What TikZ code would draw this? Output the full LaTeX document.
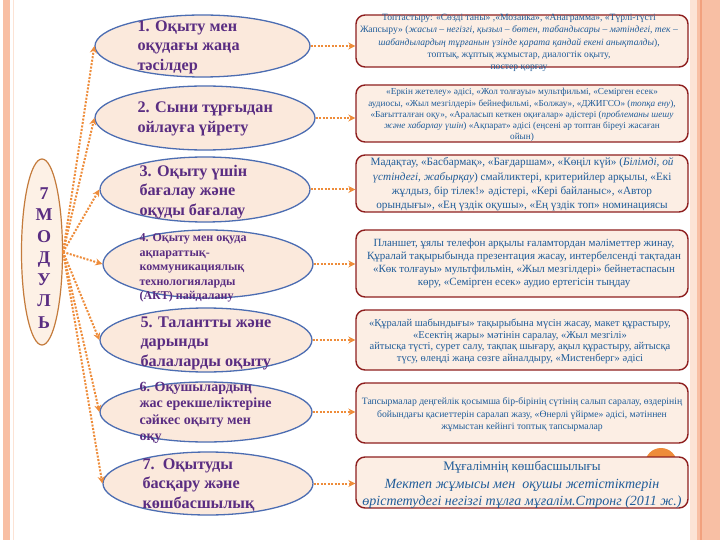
\documentclass[tikz,border=0pt]{standalone}
\usepackage{fontspec}
\setmainfont{Liberation Serif}
\usetikzlibrary{arrows.meta,positioning,shapes.geometric}

\definecolor{barpeach}{HTML}{F8BFA4}
\definecolor{barpale}{HTML}{FCE3D5}
\definecolor{bardark}{HTML}{F2A17E}
\definecolor{ellfill}{HTML}{FBE9DC}
\definecolor{ellline}{HTML}{4C6DB2}
\definecolor{modpurple}{HTML}{5A2D82}
\definecolor{modline}{HTML}{C47B3C}
\definecolor{modfill}{HTML}{FDF1E6}
\definecolor{boxline}{HTML}{8E1F1F}
\definecolor{boxfill}{HTML}{FCEEE4}
\definecolor{boxblue}{HTML}{1F5C99}
\definecolor{arrorange}{HTML}{EE8C3A}

\begin{document}
\begin{tikzpicture}[
  x=1pt,y=-1pt,
  ell/.style={ellipse, draw=ellline, fill=ellfill, line width=1.3pt, inner sep=0pt},
  modtext/.style={anchor=west, align=left, text=modpurple, font=\bfseries\fontsize{16.2}{19.5}\selectfont},
  card/.style={draw=boxline, fill=boxfill, rounded corners=9pt, line width=1.4pt, minimum width=332pt, inner sep=0pt},
  cardtext/.style={align=center, text=boxblue, inner sep=0pt},
  link/.style={-{Stealth[length=7pt,width=7pt]}, draw=arrorange, line width=2pt, dash pattern=on 2pt off 1.5pt}
]

% Slide background and side bars
\useasboundingbox[fill=white] (0,0) rectangle (720,540);
\fill[barpeach] (3,0) rectangle (10,540);
\draw[barpale, line width=1pt] (13,0) -- (13,540);
\fill[barpale] (690,0) rectangle (697,540);
\fill[barpeach] (697,0) rectangle (720,540);
\draw[bardark, line width=2pt] (701,0) -- (701,540);
\fill[arrorange] (661,464) circle (16);

% ================= Left: the 7 modules =================
\node[ellipse, draw=modline, fill=modfill, line width=1.2pt, minimum width=41pt, minimum height=186pt] (mod) at (42,252) {};
\node[align=center, text=modpurple, font=\bfseries\fontsize{18}{21.5}\selectfont] (modtxt) at (44,258)
  {7\\М\\О\\Д\\У\\Л\\Ь};

\node[ell, minimum width=215pt, minimum height=62pt] (m1) at (202.5,46) {};
\node[ell, minimum width=220pt, minimum height=64pt] (m2) at (205,118) {};
\node[ell, minimum width=210pt, minimum height=65pt] (m3) at (205,189.5) {};
\node[ell, minimum width=210pt, minimum height=68pt] (m4) at (208,264) {};
\node[ell, minimum width=212pt, minimum height=64pt] (m5) at (206,340) {};
\node[ell, minimum width=212pt, minimum height=60pt] (m6) at (206,412) {};
\node[ell, minimum width=210pt, minimum height=63pt] (m7) at (208,483.5) {};

\node[modtext] (m1t) at (134,47) {1. Оқыту мен\\оқудағы жаңа\\тәсілдер};
\node[modtext] (m2t) at (134,119) {2. Сыни тұрғыдан\\ойлауға үйрету};
\node[modtext] (m3t) at (136,192) {3. Оқыту үшін\\бағалау және\\оқуды бағалау};
\node[modtext, font=\bfseries\fontsize{12}{14.5}\selectfont] (m4t) at (136,268)
  {4. Оқыту мен оқуда\\ақпараттық-\\коммуникациялық\\технологияларды\\(АКТ) пайдалану};
\node[modtext] (m5t) at (137,343) {5. Талантты және\\дарынды\\балаларды оқыту};
\node[modtext, font=\bfseries\fontsize{14}{16.5}\selectfont] (m6t) at (136,413)
  {6. Оқушылардың\\жас ерекшеліктеріне\\сәйкес оқыту мен\\оқу};
\node[modtext] (m7t) at (139,485) {7.\ \ Оқытуды\\басқару және\\көшбасшылық};

% ================= Right: methods per module =================
\node[card, minimum height=52pt] (b1) at (522,41) {};
\node[card, minimum height=57pt] (b2) at (522,113.5) {};
\node[card, minimum height=57pt] (b3) at (522,183.5) {};
\node[card, minimum height=67pt] (b4) at (522,263.5) {};
\node[card, minimum height=60pt] (b5) at (522,340) {};
\node[card, minimum height=60pt] (b6) at (522,413) {};
\node[card, minimum height=51pt] (b7) at (522,482.5) {};

\node[cardtext, font=\fontsize{9.6}{12.2}\selectfont] (b1t) at (519,43)
  {Топтастыру: «Сөзді таны» ,«Мозаика», «Анаграмма», «Түрлі-түсті\\
   Жапсыру» (\textit{жасыл – негізгі, қызыл – бөтен, табандысары – мәтіндегі, тек –}\\
   \textit{шабандылардың тұрғанын үзінде қарата қандай екені анықталды}),\\
   топтық, жұптық жұмыстар, диалогтік оқыту,\\
   постер қорғау};
\node[cardtext, font=\fontsize{9.2}{11.2}\selectfont] (b2t) at (522,115)
  {«Еркін жетелеу» әдісі, «Жол толғауы» мультфильмі, «Семірген есек»\\
   аудиосы, «Жыл мезгілдері» бейнефильмі, «Болжау», «ДЖИГСО» (\textit{топқа ену}),\\
   «Бағытталған оқу», «Араласып кеткен оқиғалар» әдістері (\textit{проблеманы шешу}\\
   \textit{және хабарлау үшін}) «Ақпарат» әдісі (еңсені әр топтан біреуі жасаған\\
   ойын)};
\node[cardtext, font=\fontsize{11.2}{14.3}\selectfont] (b3t) at (522,184.5)
  {Мадақтау, «Басбармақ», «Бағдаршам», «Көңіл күй» (\textit{Білімді, ой}\\
   \textit{үстіндегі, жабырқау}) смайликтері, критерийлер арқылы, «Екі\\
   жұлдыз, бір тілек!» әдістері, «Кері байланыс», «Автор\\
   орындығы», «Ең үздік оқушы», «Ең үздік топ» номинациясы};
\node[cardtext, font=\fontsize{11}{13}\selectfont] (b4t) at (524,263.5)
  {Планшет, ұялы телефон арқылы ғаламтордан мәліметтер жинау,\\
   Құралай тақырыбында презентация жасау, интербелсенді тақтадан\\
   «Көк толғауы» мультфильмін, «Жыл мезгілдері» бейнетаспасын\\
   көру, «Семірген есек» аудио ертегісін тыңдау};
\node[cardtext, font=\fontsize{10.5}{11.7}\selectfont] (b5t) at (520,341.5)
  {«Құралай шабындығы» тақырыбына мүсін жасау, макет құрастыру,\\
   «Есектің жары» мәтінін саралау, «Жыл мезгілі»\\
   айтысқа түсті, сурет салу, тақпақ шығару, ақыл құрастыру, айтысқа\\
   түсу, өлеңді жаңа сөзге айналдыру, «Мистенберг» әдісі};
\node[cardtext, font=\fontsize{9.7}{12.5}\selectfont] (b6t) at (522,415)
  {Тапсырмалар деңгейлік қосымша бір-бірінің сүтінің салып саралау, өздерінің\\
   бойындағы қасиеттерін саралап жазу, «Өнерлі үйірме» әдісі, мәтіннен\\
   жұмыстан кейінгі топтық тапсырмалар};
\node[cardtext, font=\fontsize{14}{17.5}\selectfont] (b7t) at (522,485)
  {{\fontsize{13}{15}\selectfont Мұғалімнің көшбасшылығы}\\
   \textit{Мектеп жұмысы мен\ \ оқушы жетістіктерін}\\
   \textit{өрістетудегі негізгі тұлға мұғалім.Стронг (2011 ж.)}};

% ================= Connectors =================
\foreach \i in {1,...,7}{
  \draw[link] (mod.east) -- (m\i.west);
  \draw[link] (m\i.east) -- (m\i.east -| b\i.west);
}

\end{tikzpicture}
\end{document}
